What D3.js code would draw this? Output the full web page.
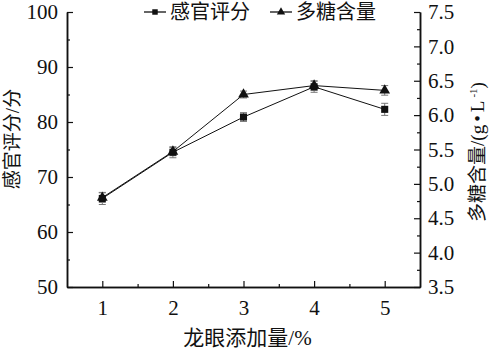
<!DOCTYPE html>
<html>
<head>
<meta charset="utf-8">
<script src="https://cdn.jsdelivr.net/npm/d3@7"></script>
<style>
  body { margin: 0; background: #fff; }
  text { font-family: "Liberation Serif", "Noto Sans CJK SC", serif; fill: #111; }
</style>
</head>
<body>
<div id="chart"></div>
<script>
const doses = [1, 2, 3, 4, 5];
const sensory = [66.1, 74.5, 80.9, 86.4, 82.3];
const sensoryErr = [1.1, 1.0, 0.8, 1.0, 1.1];
const sugar = [4.80, 5.47, 6.30, 6.43, 6.36];
const sugarErr = [0.07, 0.06, 0.05, 0.07, 0.07];
const leftTicks = [50, 60, 70, 80, 90, 100];
const rightTicks = [3.5, 4.0, 4.5, 5.0, 5.5, 6.0, 6.5, 7.0, 7.5];

const width = 489, height = 351;
const margins = { top: 12, right: 69, bottom: 64, left: 67 };
const innerWidth = width - margins.left - margins.right;
const innerHeight = height - margins.top - margins.bottom;

const svg = d3.select("#chart").append("svg")
  .attr("width", width)
  .attr("height", height);

const g = svg.append("g")
  .attr("transform", `translate(${margins.left},${margins.top})`);

const x = d3.scaleLinear().domain([0.5, 5.5]).range([0, innerWidth]);
const yL = d3.scaleLinear().domain([50, 100]).range([innerHeight, 0]);
const yR = d3.scaleLinear().domain([3.5, 7.5]).range([innerHeight, 0]);

// axes with inward ticks (major + minor)
g.append("g")
  .attr("transform", `translate(0,${innerHeight})`)
  .call(d3.axisBottom(x).tickValues(doses).tickSizeInner(-6).tickSizeOuter(0).tickPadding(13).tickFormat(d3.format("d")));
g.append("g")
  .attr("transform", `translate(0,${innerHeight})`)
  .call(d3.axisBottom(x).tickValues([1.5, 2.5, 3.5, 4.5]).tickSizeInner(-3).tickSizeOuter(0).tickFormat(""));

g.append("g")
  .call(d3.axisLeft(yL).tickValues(leftTicks).tickSizeInner(-6).tickSizeOuter(0).tickPadding(9));
g.append("g")
  .call(d3.axisLeft(yL).tickValues([55, 65, 75, 85, 95]).tickSizeInner(-3).tickSizeOuter(0).tickFormat(""));

g.append("g")
  .attr("transform", `translate(${innerWidth},0)`)
  .call(d3.axisRight(yR).tickValues(rightTicks).tickSizeInner(-6).tickSizeOuter(0).tickPadding(8).tickFormat(d3.format(".1f")));
g.append("g")
  .attr("transform", `translate(${innerWidth},0)`)
  .call(d3.axisRight(yR).tickValues([3.75, 4.25, 4.75, 5.25, 5.75, 6.25, 6.75, 7.25]).tickSizeInner(-3).tickSizeOuter(0).tickFormat(""));

g.selectAll(".domain").attr("stroke", "#111").attr("stroke-width", 1.5);
g.selectAll(".tick line").attr("stroke", "#111").attr("stroke-width", 1.2);
g.selectAll(".tick text")
  .attr("fill", "#111")
  .style("font-size", "21px")
  .style("font-family", "'Liberation Serif', serif");

// error bars
function errorBars(vals, errs, scale) {
  const eg = g.append("g").attr("stroke", "#777").attr("stroke-width", 1);
  const rows = doses.map((d, i) => ({ x: x(d), lo: scale(vals[i] - errs[i]), hi: scale(vals[i] + errs[i]) }));
  eg.selectAll("line.v").data(rows).join("line").attr("class", "v")
    .attr("x1", (d) => d.x).attr("x2", (d) => d.x)
    .attr("y1", (d) => d.lo).attr("y2", (d) => d.hi);
  eg.selectAll("line.lo").data(rows).join("line").attr("class", "lo")
    .attr("x1", (d) => d.x - 3.5).attr("x2", (d) => d.x + 3.5)
    .attr("y1", (d) => d.lo).attr("y2", (d) => d.lo);
  eg.selectAll("line.hi").data(rows).join("line").attr("class", "hi")
    .attr("x1", (d) => d.x - 3.5).attr("x2", (d) => d.x + 3.5)
    .attr("y1", (d) => d.hi).attr("y2", (d) => d.hi);
}
errorBars(sensory, sensoryErr, yL);
errorBars(sugar, sugarErr, yR);

// lines
const lineL = d3.line().x((d, i) => x(doses[i])).y((d) => yL(d));
const lineR = d3.line().x((d, i) => x(doses[i])).y((d) => yR(d));
g.append("path").attr("d", lineL(sensory)).attr("fill", "none").attr("stroke", "#111").attr("stroke-width", 1);
g.append("path").attr("d", lineR(sugar)).attr("fill", "none").attr("stroke", "#111").attr("stroke-width", 1);

// markers
const sq = d3.symbol().type(d3.symbolSquare).size(50);
const tri = d3.symbol().type(d3.symbolTriangle).size(50);
g.selectAll("path.sq").data(sensory).join("path").attr("class", "sq")
  .attr("d", sq)
  .attr("transform", (d, i) => `translate(${x(doses[i])},${yL(d)})`)
  .attr("fill", "#111");
g.selectAll("path.tri").data(sugar).join("path").attr("class", "tri")
  .attr("d", tri)
  .attr("transform", (d, i) => `translate(${x(doses[i])},${yR(d)})`)
  .attr("fill", "#111");

// legend
const legend = svg.append("g").attr("transform", "translate(144,12)");
const items = [
  { label: "感官评分", type: d3.symbolSquare, x: 0 },
  { label: "多糖含量", type: d3.symbolTriangle, x: 126 }
];
items.forEach((it) => {
  const lg = legend.append("g").attr("transform", `translate(${it.x},0)`);
  lg.append("line").attr("x1", 0).attr("x2", 22).attr("y1", 0).attr("y2", 0)
    .attr("stroke", "#111").attr("stroke-width", 1.3);
  lg.append("path").attr("d", d3.symbol().type(it.type).size(30))
    .attr("transform", "translate(11,0)").attr("fill", "#111");
  lg.append("text").attr("x", 26).attr("y", 7).attr("font-size", "20px").text(it.label);
});

// axis titles
svg.append("text")
  .attr("transform", `translate(${margins.left + innerWidth / 2 + 4},${height - 6})`)
  .attr("text-anchor", "middle").attr("font-size", "21px")
  .text("龙眼添加量/%");
svg.append("text")
  .attr("transform", "translate(19,139) rotate(-90)")
  .attr("text-anchor", "middle").attr("font-size", "19px")
  .text("感官评分/分");
svg.append("text")
  .attr("transform", "translate(484,152) rotate(-90)")
  .attr("text-anchor", "middle").attr("font-size", "19px")
  .html('多糖含量/(<tspan letter-spacing="3">g•L</tspan><tspan dy="-7" font-size="11px">-1</tspan><tspan dy="7">)</tspan>');
</script>
</body>
</html>
